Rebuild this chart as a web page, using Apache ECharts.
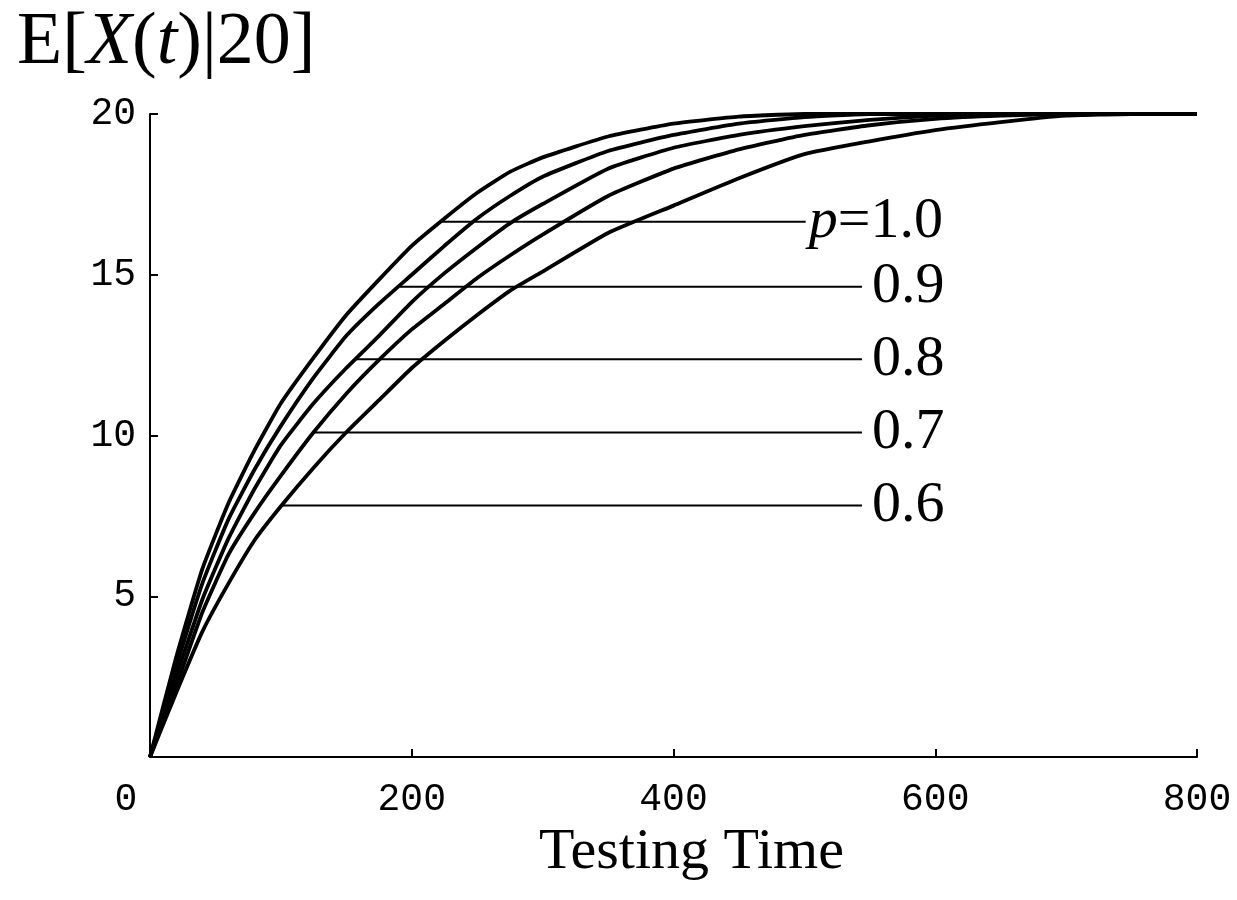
<!DOCTYPE html>
<html>
<head>
<meta charset="utf-8">
<title>E[X(t)|20]</title>
<script src="https://cdn.jsdelivr.net/npm/echarts@6/dist/echarts.min.js"></script>
<style>
  html, body { margin: 0; padding: 0; background: #fff; }
  #main { width: 1237px; height: 900px; }
</style>
</head>
<body>
<div id="main"></div>
<script>
// testing time samples (x axis)
var timeT = [0, 20, 40, 60, 80, 100, 125, 150, 175, 200, 225, 250, 275, 300, 350, 400, 450, 500, 550, 600, 650, 700, 750, 800]

// E[X(t)|20], one array per p
var p10 = [0, 3.1, 5.85, 7.9, 9.55, 11.0, 12.42, 13.75, 14.85, 15.9, 16.75, 17.55, 18.2, 18.65, 19.3, 19.7, 19.92, 20, 20, 20, 20, 20, 20, 20]
var p09 = [0, 2.8, 5.4, 7.4, 8.95, 10.3, 11.8, 13.1, 14.1, 15.0, 15.9, 16.75, 17.45, 18.05, 18.85, 19.35, 19.7, 19.9, 20, 20, 20, 20, 20, 20]
var p08 = [0, 2.5, 4.9, 6.8, 8.35, 9.7, 11.0, 12.1, 13.1, 14.15, 15.05, 15.85, 16.6, 17.2, 18.3, 18.95, 19.35, 19.62, 19.82, 19.95, 20, 20, 20, 20]
var p07 = [0, 2.2, 4.5, 6.3, 7.6, 8.75, 10.1, 11.3, 12.35, 13.3, 14.1, 14.9, 15.6, 16.25, 17.45, 18.3, 18.9, 19.35, 19.65, 19.85, 19.95, 20, 20, 20]
var p06 = [0, 2.0, 3.9, 5.4, 6.75, 7.8, 9.0, 10.1, 11.1, 12.1, 12.95, 13.75, 14.5, 15.1, 16.3, 17.15, 18.0, 18.75, 19.15, 19.5, 19.75, 19.95, 20, 20]

// leader lines to the p labels
var leaderLabels = ['p=1.0', '0.9', '0.8', '0.7', '0.6']
var leaderY = [16.65, 14.63, 12.37, 10.09, 7.82]
var leaderStart = [222, 191, 157, 125, 101]
var leaderEnd = [501, 544, 544, 544, 544]

var xTicks = [0, 200, 400, 600, 800]
var yTicks = [5, 10, 15, 20]

var serif = 'Liberation Serif'
var mono = 'Liberation Mono'

function pairs (xs, ys) {
  return xs.map(function (x, i) { return [x, ys[i]] })
}

var curves = [p10, p09, p08, p07, p06]
var series = []
curves.forEach(function (c) {
  series.push({
    type: 'line',
    data: pairs(timeT, c),
    symbol: 'none',
    smooth: 0.15,
    clip: false,
    lineStyle: { color: '#000', width: 3.8 },
    z: 3
  })
})
leaderLabels.forEach(function (lab, i) {
  var isFirst = i === 0
  series.push({
    type: 'line',
    data: [[leaderStart[i], leaderY[i]], [leaderEnd[i], leaderY[i]]],
    symbol: 'none',
    lineStyle: { color: '#000', width: 2 },
    z: 2,
    endLabel: {
      show: true,
      distance: isFirst ? 3 : 10,
      color: '#000',
      fontFamily: serif,
      fontSize: 58,
      formatter: isFirst ? '{i|p}=1.0' : lab,
      rich: {
        i: { fontFamily: serif, fontSize: 58, fontStyle: 'italic', color: '#000' }
      }
    }
  })
})

var myChart = echarts.init(document.getElementById('main'))
var option = {
  backgroundColor: '#FFFFFF',
  animation: false,
  title: {
    text: '{n|E[}{i|X}{n|(}{i|t}{n|)|20]}',
    left: 12,
    top: 2,
    textStyle: {
      rich: {
        n: { fontFamily: serif, fontSize: 74, fontWeight: 'normal', color: '#000' },
        i: { fontFamily: serif, fontSize: 74, fontWeight: 'normal', fontStyle: 'italic', color: '#000' }
      }
    }
  },
  grid: { left: 150, right: 40, top: 114, bottom: 143 },
  xAxis: {
    type: 'value',
    min: xTicks[0],
    max: xTicks[xTicks.length - 1],
    interval: 200,
    name: 'Testing Time',
    nameLocation: 'middle',
    nameGap: 62,
    nameTextStyle: { fontFamily: serif, fontSize: 58, color: '#000', padding: [0, 0, 0, 36] },
    axisLine: { lineStyle: { color: '#000', width: 2 } },
    axisTick: { inside: true, length: 8, lineStyle: { color: '#000', width: 2 } },
    splitLine: { show: false },
    axisLabel: {
      margin: 24,
      color: '#000',
      fontFamily: mono,
      fontSize: 38,
      formatter: function (v) {
        return v === 0 ? '{o|0}' : String(v)
      },
      rich: {
        o: { fontFamily: mono, fontSize: 38, color: '#000', padding: [0, 48, 0, 0] }
      }
    }
  },
  yAxis: {
    type: 'value',
    min: 0,
    max: yTicks[yTicks.length - 1],
    interval: 5,
    axisLine: { show: true, lineStyle: { color: '#000', width: 2 } },
    axisTick: { show: true, inside: true, length: 8, lineStyle: { color: '#000', width: 2 } },
    splitLine: { show: false },
    axisLabel: {
      showMinLabel: false,
      margin: 14,
      color: '#000',
      fontFamily: mono,
      fontSize: 38
    }
  },
  series: series
}
myChart.setOption(option)
window.onresize = myChart.resize
</script>
</body>
</html>
